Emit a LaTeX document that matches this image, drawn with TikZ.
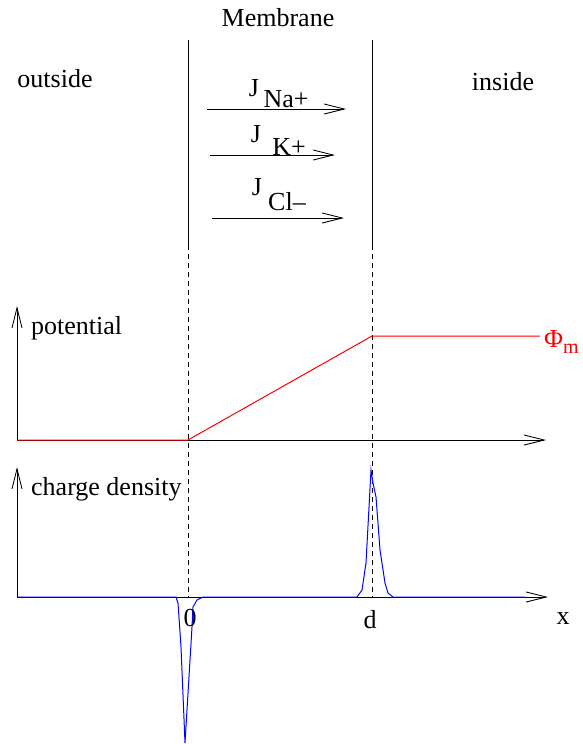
\documentclass[tikz,border=0pt]{standalone}
\usepackage{fontspec}
\setmainfont{Liberation Serif}
\usetikzlibrary{arrows.meta}
\begin{document}
\begin{tikzpicture}[x=1pt,y=-1pt,
  lbl/.style={inner sep=0pt,font=\fontsize{26}{30}\selectfont},
  flux/.style={line width=0.9pt,-{Straight Barb[length=20pt,width=10pt,line width=0.9pt]}},
  axis/.style={line width=0.9pt,-{Straight Barb[length=20pt,width=10pt,line width=0.9pt]}},
  wall/.style={line width=0.9pt},
  guide/.style={line width=0.9pt,dashed,dash pattern=on 5pt off 4pt}]
\useasboundingbox (0,0) rectangle (582,744);
% membrane walls
\coordinate (w1t) at (188,40); \coordinate (w1b) at (188,245);
\coordinate (w2t) at (372,40); \coordinate (w2b) at (372,245);
\draw[wall] (w1t) -- (w1b);
\draw[wall] (w2t) -- (w2b);
\coordinate (g1) at (188,597); \coordinate (g2) at (372,597);
\draw[guide] (w1b) -- (g1);
\draw[guide] (w2b) -- (g2);
% labels
\node[lbl] (mem) at (278,18) {Membrane};
\node[lbl] (out) at (55,79) {outside};
\node[lbl] (ins) at (503,82) {inside};
% fluxes
\coordinate (na1) at (207,109); \coordinate (na2) at (346,109);
\coordinate (k1) at (210,155); \coordinate (k2) at (335,155);
\coordinate (cl1) at (212,218); \coordinate (cl2) at (344,218);
\draw[flux] (na1) -- (na2);
\draw[flux] (k1) -- (k2);
\draw[flux] (cl1) -- (cl2);
\node[lbl] (jna) at (254,88) {J};
\node[lbl] (sna) at (286,99) {Na+};
\node[lbl] (jk) at (256,134) {J};
\node[lbl] (sk) at (289,147) {K+};
\node[lbl] (jcl) at (257,187) {J};
\node[lbl] (scl) at (287,202) {Cl–};
% potential axes
\coordinate (po) at (17,440); \coordinate (py) at (17,306); \coordinate (px) at (546,440);
\draw[axis] (po) -- (py);
\draw[axis] (po) -- (px);
\node[lbl,anchor=west] (pot) at (31,328) {potential};
\coordinate (r1) at (188,440); \coordinate (r2) at (372,336); \coordinate (r3) at (540,336);
\draw[red,line width=1pt] (po) -- (r1) -- (r2) -- (r3);
\node[lbl,red,anchor=west] (phi) at (544,342) {Φ\raisebox{-0.45ex}{\fontsize{20}{20}\selectfont m}};
% charge density axes
\coordinate (co) at (17,597); \coordinate (cy) at (17,467); \coordinate (cx) at (548,597);
\draw[axis] (co) -- (cy);
\draw[axis] (co) -- (cx);
\node[lbl,anchor=west] (chd) at (31,489) {charge density};
\coordinate (bend) at (525,597);
\draw[blue,line width=1pt] (co) -- (176,597) -- (178,603) -- (181,647) -- (185,743) -- (192,627) -- (193,607) -- (197,600) -- (203,597)
  -- (357,597) -- (362,590) -- (366,563) -- (371,470) -- (373,483) -- (376,497) -- (380,550) -- (385,583) -- (388,593) -- (393,597) -- (bend);
\node[lbl] (zero) at (190,618) {0};
\node[lbl] (dd) at (370,620) {d};
\node[lbl] (xx) at (563,619) {x};
\end{tikzpicture}
\end{document}
